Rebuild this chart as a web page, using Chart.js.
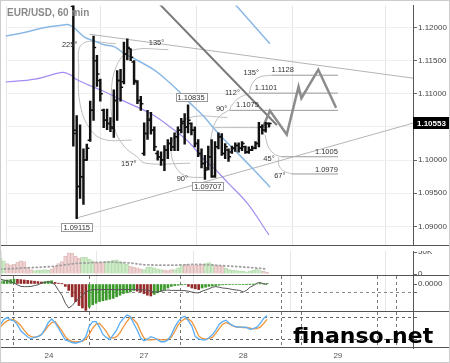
<!DOCTYPE html>
<html>
<head>
<meta charset="utf-8">
<script src="https://cdn.jsdelivr.net/npm/chart.js@4.4.1/dist/chart.umd.min.js"></script>
<style>
  html, body { margin: 0; padding: 0; background: #fff; }
  #wrap { position: relative; width: 450px; height: 363px; overflow: hidden; background: #fff; }
  #wrap canvas { position: absolute; left: 0; }
  #frame { position: absolute; left: 0; top: 0; width: 450px; height: 363px; box-sizing: border-box; border: 1px solid #ccc; pointer-events: none; }
</style>
</head>
<body>
<div id="wrap">
  <canvas id="main" style="top:0" width="450" height="251"></canvas>
  <canvas id="vol" style="top:251px" width="450" height="25"></canvas>
  <canvas id="macd" style="top:276px" width="450" height="36"></canvas>
  <canvas id="stoch" style="top:312px" width="450" height="51"></canvas>
  <div id="frame"></div>
</div>
<script>
// ---- price bars (EUR/USD, 60 min), index 0 = first visible bar
const high  = [1.1240, 1.1067, 1.1053, 1.1017, 1.1024, 1.1089, 1.1187, 1.1158, 1.1122, 1.1077,
               1.1077, 1.1064, 1.1106, 1.1135, 1.1137, 1.1178, 1.1183, 1.1168, 1.1150, 1.1120,
               1.1096, 1.1056, 1.1075, 1.1072, 1.1050, 1.1014, 1.10125, 1.1022, 1.1031, 1.1034,
               1.1041, 1.1050, 1.1063, 1.1070, 1.10835, 1.1056, 1.1050, 1.1031, 1.1017, 1.1007,
               1.1021, 1.1031, 1.1028, 1.1041, 1.1040, 1.1025, 1.1017, 1.1021, 1.1026, 1.1026,
               1.1028, 1.1021, 1.1020, 1.1021, 1.1028, 1.1057, 1.1053, 1.1057, 1.1056];
const low   = [1.1021, 1.09115, 1.0942, 1.0933, 1.09995, 1.1028, 1.1060, 1.1111, 1.1089, 1.1049,
               1.1046, 1.1043, 1.1034, 1.1060, 1.1089, 1.1115, 1.1151, 1.1150, 1.1114, 1.1085,
               1.1075, 1.1007, 1.1031, 1.1039, 1.1014, 1.1000, 1.0992, 1.0984, 1.1002, 1.1014,
               1.1014, 1.1014, 1.1041, 1.1024, 1.1041, 1.1038, 1.1020, 1.1005, 1.0988, 1.09707,
               1.0985, 1.0974, 1.0974, 1.1017, 1.1007, 1.1002, 1.0998, 1.1010, 1.1013, 1.1012,
               1.1014, 1.1010, 1.1010, 1.1014, 1.1017, 1.1020, 1.1039, 1.1042, 1.1050];
const open  = [1.1232, 1.1040, 1.0960, 1.0975, 1.1000, 1.1030, 1.1075, 1.1150, 1.1120, 1.1075,
               1.1060, 1.1055, 1.1048, 1.1090, 1.1120, 1.1118, 1.1160, 1.1168, 1.1148, 1.1118,
               1.1090, 1.1010, 1.1040, 1.1062, 1.1045, 1.1010, 1.1005, 1.1000, 1.1015, 1.1025,
               1.1020, 1.1035, 1.1045, 1.1058, 1.1050, 1.1055, 1.1045, 1.1025, 1.1010, 1.0995,
               1.0988, 1.1005, 1.0976, 1.1020, 1.1035, 1.1010, 1.1015, 1.1012, 1.1018, 1.1022,
               1.1018, 1.1020, 1.1012, 1.1015, 1.1018, 1.1025, 1.1050, 1.1045, 1.1055];
const close = [1.1045, 1.0960, 1.0975, 1.1000, 1.1018, 1.1075, 1.1170, 1.1130, 1.1100, 1.1060,
               1.1055, 1.1050, 1.1090, 1.1120, 1.1110, 1.1160, 1.1170, 1.1155, 1.1120, 1.1090,
               1.1085, 1.1040, 1.1060, 1.1045, 1.1020, 1.1005, 1.1000, 1.1015, 1.1025, 1.1020,
               1.1035, 1.1045, 1.1055, 1.1050, 1.1060, 1.1045, 1.1025, 1.1010, 1.0995, 1.0985,
               1.1005, 1.0975, 1.1020, 1.1035, 1.1010, 1.1020, 1.1005, 1.1018, 1.1022, 1.1018,
               1.1025, 1.1012, 1.1015, 1.1018, 1.1025, 1.1050, 1.1045, 1.1055, 1.10553];

// ---- indicators start 20 bars before the first visible price bar
const IND_START = -20;
const volume = [36, 30, 24, 21, 22, 27, 30, 28, 16, 10, 8, 9, 9, 10, 9, 12, 17, 24, 28, 40,
                48, 47, 40, 36, 38, 38, 34, 30, 27, 26, 27, 28, 29, 31, 32, 28, 26, 22, 18, 16,
                14, 12, 10, 15, 16, 14, 12, 10, 9, 8, 10, 10, 14, 20, 22, 21, 19, 21, 20, 22,
                24, 26, 22, 19, 20, 18, 13, 10, 9, 8, 7, 6, 5, 7, 9, 11, 8, 6, 4];
const volUp  = [1, 1, 0, 0, 0, 0, 0, 0, 0, 0, 1, 1, 1, 1, 1, 0, 0, 0, 0, 0,
                0, 0, 0, 0, 1, 1, 1, 1, 0, 0, 0, 1, 1, 1, 1, 1, 1, 1, 0, 0,
                0, 0, 1, 1, 1, 1, 1, 1, 0, 0, 0, 1, 1, 1, 0, 0, 0, 0, 0, 0,
                1, 1, 1, 0, 0, 0, 1, 1, 1, 1, 1, 1, 1, 1, 1, 1, 1, 0, 0];
const volAvg = [11, 11.5, 12, 12, 12.5, 13, 13.5, 14, 14, 14.5, 15, 15, 15.5, 16, 16.5, 17, 18, 19,
                20, 21, 22, 23, 24, 24.5, 25, 25, 25.5, 26, 26, 26.5, 27, 27, 27, 27, 26.5, 26,
                26, 25.5, 25, 24, 23, 22, 21, 21, 20.5, 20.5, 20, 20, 20, 20, 20, 20, 20.5, 21,
                21, 21.5, 22, 22, 22, 21.5, 21, 21, 20.5, 20, 19.5, 19, 18.5, 18, 17.5, 17, 16.5, 16,
                15.5, 15, 14, 13.5, 13, 12, 11.5];
const macdHist = [0.0003, 0.0004, 0.0005, 0.00055, 0.0006,
                  0.00058, 0.00055, 0.0005, 0.00045, 0.0004, 0.00035, 0.0003, 0.00025,
                  0.0003, 0.00035, 0.0004, 0.0002, 0.0001, 0.00002,
                  -0.0003, -0.0008, -0.0016, -0.0022, -0.0027, -0.003, -0.0033,
                  -0.0029, -0.0026, -0.0024, -0.0022, -0.0021, -0.002, -0.0019, -0.0018, -0.0016, -0.0014, -0.0012, -0.0011, -0.001, -0.0008,
                  -0.0009, -0.001, -0.0012, -0.0014, -0.0015,
                  -0.0013, -0.0011, -0.0009, -0.0007, -0.0005,
                  -0.0003, -0.0002, -0.00015, -0.0001, -0.00005,
                  -0.0003, -0.0005, -0.0006, -0.0007,
                  -0.0005, -0.0004, -0.0003, -0.00025, -0.0002, -0.00015, -0.0001,
                  -0.00009, -0.00008, -0.00007, -0.00006, -0.00005, -0.00004, -0.00003, -0.00002, -0.00001, 0, 0.00001, 0.00002, 0.00003];
const macdLine = [0.00058, 0.0005, 0.0004, 0.0003, 0.0001, -0.0001, -0.0003, -0.00033, -0.00033, -0.0003,
                  -0.0002, -0.0001, 0.0001, 0.0002, 0.0003, 0.0002, -0.0001, -0.0008, -0.0014, -0.0024,
                  -0.003, -0.0027, -0.0022, -0.0018, -0.0014, -0.001, -0.0008, -0.0007,
                  -0.0007, -0.00072, -0.0007, -0.00068, -0.0007, -0.0007, -0.00072, -0.0007, -0.0007, -0.00068, -0.0007, -0.0007, -0.0007, -0.00072,
                  -0.00075, -0.00075, -0.0009, -0.001, -0.001, -0.0009, -0.0008, -0.00075,
                  -0.0008, -0.0008, -0.0008, -0.00082, -0.00083, -0.0009,
                  -0.001, -0.0011, -0.0011, -0.0009, -0.00075, -0.0006, -0.0004, -0.00033, -0.0004, -0.0005,
                  -0.00054, -0.0006, -0.0007, -0.00075, -0.0008, -0.001, -0.0008, -0.0004, -0.0002, 0.0001, 0.0002, 0.0, -0.00004];
const stochK = [61, 76, 81, 75, 72, 61, 45, 36, 28, 23, 28, 29, 34, 49, 67, 77, 67, 52, 36, 20,
                17, 13, 11, 14, 18, 29, 58, 70, 70, 55, 35, 27, 21, 34, 47, 67, 79, 88, 84, 65,
                47, 26, 18, 22, 29, 26, 20, 15, 15, 20, 34, 55, 70, 81, 84, 72, 58, 29, 23, 20,
                20, 26, 34, 47, 63, 70, 74, 65, 59, 56, 55, 55, 54, 49, 51, 55, 65, 79, 87];
const stochD = [56, 65, 72, 76, 75, 68, 59, 46, 35, 29, 27, 30, 35, 45, 58, 67, 70, 58, 45, 29,
                20, 16, 15, 15, 17, 22, 35, 52, 63, 65, 55, 43, 27, 25, 29, 40, 56, 70, 82, 75,
                65, 43, 25, 20, 20, 21, 22, 20, 20, 22, 27, 43, 61, 72, 78, 77, 70, 52, 31, 24,
                22, 24, 27, 38, 51, 63, 67, 64, 58, 55, 55, 54, 54, 52, 50, 51, 55, 65, 76];

// ---- moving averages on the price panel [bar index, price]
const maBlue = [[-20.1, 1.1187], [-14.2, 1.11928], [-8.4, 1.1200], [-4.0, 1.12029], [-1.4, 1.12043],
                [0.4, 1.11986], [3.3, 1.11856], [6.2, 1.11798], [9.15, 1.1174], [12.1, 1.11712],
                [15, 1.11611], [18.8, 1.1151], [23.8, 1.11365], [26.7, 1.1125], [30.5, 1.11077],
                [34, 1.10889], [38.4, 1.10673], [42.8, 1.10413], [48.3, 1.10125], [53, 1.0988], [58.3, 1.09591]];
const maPurple = [[-20.1, 1.11178], [-11.3, 1.11221], [-3.4, 1.11322], [-1.1, 1.11293], [1.26, 1.11207],
                  [9.15, 1.11034], [15, 1.10889], [22.9, 1.10702], [28.7, 1.105], [34, 1.10284],
                  [38.4, 1.10024], [42.2, 1.09851], [45.7, 1.09663], [51.6, 1.09346], [57.98, 1.0887]];
const bandUpper = [[45.7, 1.1248], [58.27, 1.11755]];

// ---- drawings
const triUpper = [[4.77, 1.11899], [100.67, 1.11236]];
const triLower = [[1.26, 1.0913], [100.67, 1.10557]];
const trendDown = [[23.77, 1.12447], [60.3, 1.10529]];
const forecast = [[56.2, 1.105], [58.27, 1.10745], [63.25, 1.10385], [66.75, 1.11106],
                  [67.6, 1.10933], [72.6, 1.11365], [77.87, 1.10788]];
const arcs = [
  [[12.66, 1.11755], [2.72, 1.11755], [1.6, 1.1135], [2.1, 1.1082], [5.1, 1.1046], [9.2, 1.1031], [17.3, 1.1030]],
  [[28.16, 1.11668], [17.34, 1.11654], [12.95, 1.11437], [11.2, 1.10961], [12.08, 1.105], [15, 1.10211], [18.8, 1.10053], [21.43, 1.09952], [34.6, 1.09952]],
  [[45.7, 1.10644], [34.6, 1.10644], [30.8, 1.10457], [29, 1.10168], [30.2, 1.09909], [33.1, 1.09764], [38.4, 1.09735]],
  [[46.3, 1.1076], [42.8, 1.1063], [41.0, 1.1039], [40.7, 1.1010], [42.2, 1.0986], [44.8, 1.0971]],
  [[41.9, 1.1049], [58.27, 1.1049]],
  [[52.14, 1.1101], [48.9, 1.1093], [46.9, 1.1082], [46.3, 1.1075]],
  [[58.86, 1.1128], [55.05, 1.1125], [53, 1.1115], [52.14, 1.1101]],
  [[56.8, 1.10385], [57.7, 1.10211], [59.4, 1.10096], [61.5, 1.1005]],
  [[60.9, 1.10038], [60.9, 1.09923], [62.37, 1.09836], [64.7, 1.0979]]
];
const levelPrice = [1.1128, 1.1101, 1.1075, 1.1005, 1.0979];
const levelFrom  = [58.86, 52.14, 46.3, 61.5, 64.7];
const levelTo = 78.45;

const noteText = ['225°', '135°', '157°', '90°', '90°', '112°', '135°', '45°', '67°',
                  '1.1128', '1.1101', '1.1075', '1.1005', '1.0979'];
const noteX = [-1.08, 24.65, 16.46, 32.3, 43.95, 47.16, 52.7, 58.0, 61.2, 62.05, 57.1, 51.6, 75.0, 75.0];
const noteY = [1.1174, 1.1177, 1.09937, 1.09721, 1.10774, 1.1102, 1.11308, 1.1001, 1.09764,
               1.11365, 1.11091, 1.10832, 1.10118, 1.09858];
const boxText = ['1.09115', '1.09707', '1.10835'];
const boxX = [1.0, 39.85, 34.9];
const boxY = [1.08985, 1.09606, 1.10947];

// ---- axes
const X_MIN = -20.1, X_MAX = 100.67;
const dayTicks = [-5.8, 22, 51, 78.7];
const dayLabels = ['24', '27', '28', '29'];
const priceTicks = [1.09, 1.095, 1.10, 1.105, 1.11, 1.115, 1.12];
const sessionMarks = [-16.3, 5.9, 32.5, 62.1, 68, 90.1, 95.7];

Chart.defaults.font.family = '"Liberation Sans", Arial, sans-serif';
Chart.defaults.font.size = 8;
Chart.defaults.color = '#444';

const pts = arr => arr.map(p => ({ x: p[0], y: p[1] }));
const ind = arr => arr.map((v, k) => ({ x: k + IND_START, y: v }));

function lineSet(data, color, width, extra) {
  return Object.assign({ type: 'line', data: data, borderColor: color, borderWidth: width,
    pointRadius: 0, fill: false, tension: 0 }, extra || {});
}

function xAxis(showLabels) {
  return {
    type: 'linear', min: X_MIN, max: X_MAX, offset: false,
    afterBuildTicks: s => { s.ticks = dayTicks.map(v => ({ value: v })); },
    afterFit: s => { s.height = showLabels ? 15 : 0; s.paddingLeft = 0; s.paddingRight = 0; },
    ticks: { display: showLabels, autoSkip: false, maxRotation: 0, padding: 3, color: '#555',
             callback: (v, k) => dayLabels[k] },
    grid: { color: '#e6e6e6', drawTicks: false },
    border: { display: false }
  };
}

function yAxis(min, max, ticks, label, gridOpts, dash) {
  return {
    position: 'right', min: min, max: max,
    afterBuildTicks: s => { s.ticks = ticks.map(v => ({ value: v })); },
    afterFit: s => { s.width = 37; s.paddingTop = 0; s.paddingBottom = 0; },
    ticks: { autoSkip: false, padding: 1, color: '#444', callback: label },
    grid: Object.assign({ tickColor: '#666', tickLength: 4 }, gridOpts),
    border: { color: '#555', dash: dash || [] }
  };
}

const separator = {
  id: 'separator',
  afterDraw(chart) {
    const ctx = chart.ctx, y = Math.round(chart.chartArea.bottom) - 0.5;
    ctx.save();
    ctx.strokeStyle = '#555';
    ctx.lineWidth = 1;
    ctx.beginPath(); ctx.moveTo(0, y); ctx.lineTo(chart.width, y); ctx.stroke();
    ctx.restore();
  }
};

const sessions = {
  id: 'sessions',
  beforeDatasetsDraw(chart) {
    const { ctx, chartArea: a, scales: { x } } = chart;
    ctx.save();
    ctx.strokeStyle = '#777';
    ctx.lineWidth = 1;
    ctx.setLineDash([3, 3]);
    sessionMarks.forEach(v => {
      const px = Math.round(x.getPixelForValue(v)) + 0.5;
      ctx.beginPath(); ctx.moveTo(px, a.top); ctx.lineTo(px, a.bottom); ctx.stroke();
    });
    ctx.restore();
  }
};

const notes = {
  id: 'notes',
  afterDatasetsDraw(chart) {
    const { ctx, scales: { x, y } } = chart;
    ctx.save();
    ctx.font = '7.5px "Liberation Sans", Arial';
    ctx.textAlign = 'center';
    ctx.textBaseline = 'middle';
    ctx.fillStyle = '#333';
    noteText.forEach((t, k) => ctx.fillText(t, x.getPixelForValue(noteX[k]), y.getPixelForValue(noteY[k])));
    boxText.forEach((t, k) => {
      const px = x.getPixelForValue(boxX[k]), py = y.getPixelForValue(boxY[k]);
      const w = Math.round(ctx.measureText(t).width) + 4;
      const l = Math.round(px - w / 2) + 0.5, tp = Math.round(py - 4) + 0.5;
      ctx.fillStyle = '#fff';
      ctx.fillRect(l, tp, w, 8);
      ctx.strokeStyle = '#999';
      ctx.lineWidth = 1;
      ctx.strokeRect(l, tp, w, 8);
      ctx.fillStyle = '#333';
      ctx.fillText(t, px, py + 0.5);
    });
    ctx.restore();
  },
  afterDraw(chart) {
    const { ctx, chartArea: a, scales: { y } } = chart;
    ctx.save();
    ctx.font = 'bold 10px "Liberation Sans", Arial';
    ctx.fillStyle = '#8a8a8a';
    ctx.textBaseline = 'alphabetic';
    ctx.fillText('EUR/USD, 60 min', 7, 16);
    const last = close[close.length - 1];
    const py = Math.round(y.getPixelForValue(last));
    ctx.fillStyle = '#000';
    ctx.fillRect(a.right, py - 6, chart.width - a.right, 12);
    ctx.fillStyle = '#fff';
    ctx.font = 'bold 8px "Liberation Sans", Arial';
    ctx.textBaseline = 'middle';
    ctx.fillText(last.toFixed(5), a.right + 4, py + 0.5);
    ctx.restore();
  }
};

const watermark = {
  id: 'watermark',
  afterDraw(chart) {
    const ctx = chart.ctx;
    ctx.save();
    ctx.font = 'bold 22px "DejaVu Sans", sans-serif';
    ctx.fillStyle = '#000';
    ctx.textBaseline = 'alphabetic';
    ctx.fillText('finanso.net', 293, 31);
    ctx.restore();
  }
};

const common = {
  responsive: false, animation: false, events: [],
  layout: { padding: 0 },
  plugins: { legend: { display: false }, tooltip: { enabled: false } }
};

// ---- price panel
const mainSets = [
  { type: 'bar', data: high.map((h, i) => ({ x: i, y: [low[i], h] })), backgroundColor: '#111',
    barThickness: 1.8 },
  lineSet(open.map((o, i) => ({ x: i - 0.38, y: o })), '#111', 0,
    { showLine: false, pointStyle: 'line', pointRadius: 1.3, pointBorderWidth: 1.5, pointBorderColor: '#111' }),
  lineSet(close.map((c, i) => ({ x: i + 0.38, y: c })), '#111', 0,
    { showLine: false, pointStyle: 'line', pointRadius: 1.3, pointBorderWidth: 1.5, pointBorderColor: '#111' }),
  lineSet(pts(forecast), '#8c8c8c', 2.5),
  lineSet(pts(trendDown), '#7a7a7a', 2),
  lineSet(pts(maBlue), '#8ab8e6', 1.5, { tension: 0.4 }),
  lineSet(pts(maPurple), '#a58cf2', 1.2, { tension: 0.4 }),
  lineSet(pts(bandUpper), '#8ab8e6', 1.5),
  lineSet(pts(triUpper), '#b4b4b4', 1),
  lineSet(pts(triLower), '#b4b4b4', 1)
];
arcs.forEach(a => mainSets.push(lineSet(pts(a), '#bdbdbd', 1, { tension: 0.4 })));
levelPrice.forEach((p, k) => mainSets.push(lineSet([{ x: levelFrom[k], y: p }, { x: levelTo, y: p }], '#9a9a9a', 1)));

new Chart(document.getElementById('main'), {
  type: 'line',
  data: { datasets: mainSets },
  options: Object.assign({}, common, {
    scales: {
      x: xAxis(false),
      y: yAxis(1.08711, 1.12332, priceTicks, v => v.toFixed(5), { color: '#efefef' })
    }
  }),
  plugins: [notes, separator]
});

// ---- volume panel
new Chart(document.getElementById('vol'), {
  type: 'line',
  data: { datasets: [
    lineSet(ind(volAvg), '#a0a0a0', 1.8, { borderDash: [1, 3], borderCapStyle: 'round' }),
    { type: 'bar', data: ind(volume), barThickness: 3.4, borderWidth: 1,
      backgroundColor: c => volUp[c.dataIndex] ? 'rgba(205,235,200,0.85)' : 'rgba(240,210,210,0.85)',
      borderColor: c => volUp[c.dataIndex] ? 'rgba(160,210,150,0.7)' : 'rgba(215,165,165,0.7)' }
  ] },
  options: Object.assign({}, common, {
    scales: {
      x: xAxis(false),
      y: yAxis(-4.5, 52.3, [0, 50], v => v === 0 ? '0' : v + 'K', { drawOnChartArea: false })
    }
  }),
  plugins: [separator]
});

// ---- MACD panel
new Chart(document.getElementById('macd'), {
  type: 'line',
  data: { datasets: [
    lineSet(ind(macdLine), '#555', 1),
    { type: 'bar', data: ind(macdHist), barThickness: 2, borderWidth: 0,
      backgroundColor: c => (c.dataIndex === 0 || macdHist[c.dataIndex] > macdHist[c.dataIndex - 1]) ? '#3c9a2c' : '#952a2a' }
  ] },
  options: Object.assign({}, common, {
    scales: {
      x: xAxis(false),
      y: yAxis(-0.0035, 0.001, [0, -0.0011], v => v === 0 ? '0.0000' : '',
        { color: c => c.tick && c.tick.value === 0 ? 'rgba(0,0,0,0)' : '#888' }, [3, 3])
    }
  }),
  plugins: [sessions, separator]
});

// ---- stochastic panel + time axis
new Chart(document.getElementById('stoch'), {
  type: 'line',
  data: { datasets: [
    lineSet(ind(stochK), '#5aaef5', 1.3),
    lineSet(ind(stochD), '#f0953a', 1.3)
  ] },
  options: Object.assign({}, common, {
    scales: {
      x: Object.assign(xAxis(true), { grid: { display: false, drawTicks: false } }),
      y: yAxis(-2, 96.3, [20, 80], () => '', { color: '#666' }, [3, 3])
    }
  }),
  plugins: [sessions, separator, watermark]
});
</script>
</body>
</html>
